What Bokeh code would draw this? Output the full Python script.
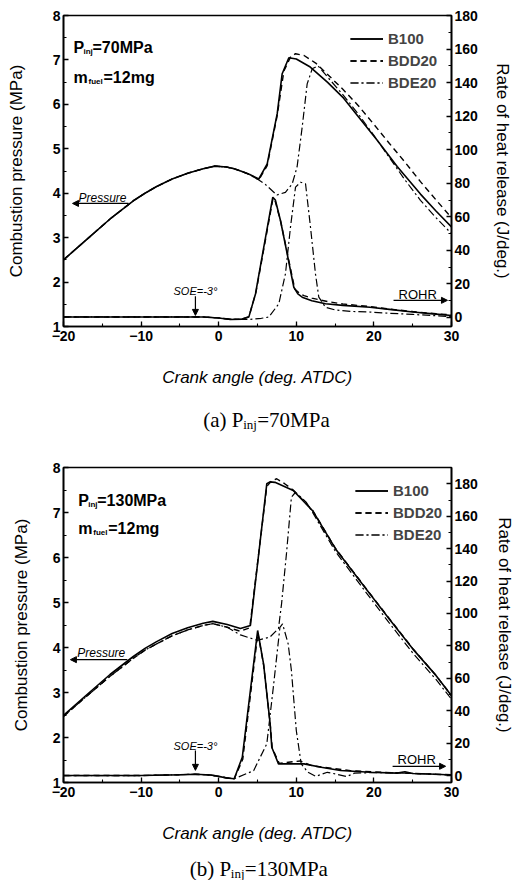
from bokeh.plotting import figure
from bokeh.models import (Range1d, LinearAxis, SingleIntervalTicker, Legend, LegendItem,
                          Label, Arrow, NormalHead)
from bokeh.layouts import column
from bokeh.embed import file_html
from bokeh.resources import INLINE

# ---------------- Panel (a): P_inj = 70 MPa ----------------
A_B100_P_ANG = [-20, -17, -14, -11, -9.5, -8, -6, -4, -2, -0.5, 1, 2, 3, 4, 5.17, 6.25, 7.54, 8.18, 9.04, 10, 11.8, 14, 16.1, 18, 20.4, 23, 26, 28, 30]
A_B100_P = [2.50, 2.96, 3.42, 3.83, 4.00, 4.15, 4.32, 4.45, 4.55, 4.61, 4.59, 4.55, 4.49, 4.42, 4.32, 4.66, 5.79, 6.69, 7.05, 7.02, 6.84, 6.50, 6.14, 5.72, 5.20, 4.60, 3.98, 3.60, 3.24]
A_BDD20_P_ANG = [-20, -17, -14, -11, -9.5, -8, -6, -4, -2, -0.5, 1, 2, 3, 4, 5.17, 6.25, 7.54, 8.4, 9.3, 9.9, 11, 12.5, 14, 16, 18, 20, 22, 24, 26, 28, 30]
A_BDD20_P = [2.50, 2.96, 3.42, 3.83, 4.00, 4.15, 4.32, 4.45, 4.55, 4.61, 4.59, 4.55, 4.49, 4.42, 4.30, 4.62, 5.75, 6.75, 7.08, 7.14, 7.10, 6.93, 6.68, 6.34, 5.97, 5.55, 5.12, 4.70, 4.26, 3.85, 3.45]
A_BDE20_P_ANG = [-20, -17, -14, -11, -9.5, -8, -6, -4, -2, -0.5, 1, 2, 3, 4, 5.17, 6, 7, 7.5, 8.6, 9.47, 10.1, 10.76, 11.4, 12.05, 12.8, 14, 16, 18, 20, 22, 24, 26, 28, 30]
A_BDE20_P = [2.50, 2.96, 3.42, 3.83, 4.00, 4.15, 4.32, 4.45, 4.55, 4.61, 4.59, 4.55, 4.49, 4.42, 4.30, 4.20, 4.04, 3.96, 4.02, 4.21, 4.59, 5.49, 6.46, 6.80, 6.87, 6.62, 6.22, 5.78, 5.30, 4.80, 4.30, 3.84, 3.45, 3.09]

A_B100_R_ANG = [-20, -10, -5, -2, 0, 1.5, 3, 3.88, 4.74, 5.81, 6.97, 7.3, 7.96, 8.82, 9.68, 10.2, 10.76, 12, 13.76, 16, 19.5, 22, 25, 28, 30]
A_B100_R = [0.3, 0.3, 0.3, 0.3, -0.3, -1.2, -1.0, 0.2, 14, 41.9, 71.7, 70, 57.8, 38, 18, 14, 12.1, 10, 8.2, 7.2, 6.1, 4.8, 3.2, 2.0, 1.2]
A_BDD20_R_ANG = [-20, -10, -5, -2, 0, 1.5, 3, 3.9, 4.8, 5.9, 7.0, 7.3, 8.0, 8.9, 9.8, 10.5, 11, 12, 14, 16, 19.5, 22, 25, 28, 30]
A_BDD20_R = [0.3, 0.3, 0.3, 0.3, -0.3, -1.2, -1.0, 0.5, 15, 43, 71, 69, 57, 37, 17, 14, 13, 11.5, 9.5, 8, 6.5, 5, 3.5, 2.2, 1.5]
A_BDE20_R_ANG = [-20, -10, -5, -2, 0, 2, 4, 5.5, 6.46, 7.75, 8.6, 9.25, 9.9, 10.54, 11.19, 11.83, 12.47, 12.9, 13.76, 15, 17, 19.6, 22, 25, 28, 30]
A_BDE20_R = [0.3, 0.3, 0.3, 0.3, -0.3, -1.2, -1.2, -0.5, 0.2, 8.2, 26, 53.8, 77.7, 80.6, 79.7, 53.8, 26, 12.1, 6.1, 4.5, 3.6, 3.2, 2.5, 1.8, 1.0, 0.5]

# ---------------- Panel (b): P_inj = 130 MPa ----------------
B_B100_P_ANG = [-20, -17, -14, -11, -9.5, -8, -6, -4, -2, -0.76, 1.1, 2.8, 4.09, 6.2, 6.6, 7.25, 9.6, 12.1, 15.06, 19, 22, 25, 28, 30]
B_B100_P = [2.49, 2.95, 3.40, 3.80, 3.98, 4.13, 4.31, 4.44, 4.54, 4.58, 4.51, 4.42, 4.49, 7.64, 7.68, 7.67, 7.49, 7.04, 6.19, 5.30, 4.63, 3.97, 3.38, 2.93]
B_BDD20_P_ANG = [-20, -17, -14, -11, -9.5, -8, -6, -4, -2, -0.76, 1.1, 2.8, 4.0, 6.2, 6.8, 7.47, 8.5, 9.6, 12.1, 15.06, 19, 22, 25, 28, 30]
B_BDD20_P = [2.47, 2.92, 3.36, 3.76, 3.94, 4.08, 4.26, 4.39, 4.49, 4.53, 4.45, 4.36, 4.44, 7.58, 7.70, 7.75, 7.64, 7.50, 7.05, 6.20, 5.31, 4.64, 3.98, 3.38, 2.93]
B_BDE20_P_ANG = [-20, -17, -14, -11, -9.5, -8, -6, -4, -2, -0.76, 1.1, 2.8, 4.94, 6.6, 7.7, 8.1, 8.73, 9.37, 9.9, 11.27, 12.1, 15.06, 19, 22, 25, 28, 30]
B_BDE20_P = [2.47, 2.92, 3.36, 3.76, 3.94, 4.08, 4.26, 4.39, 4.49, 4.53, 4.45, 4.28, 4.16, 4.23, 4.42, 4.97, 6.08, 7.34, 7.45, 7.23, 7.00, 6.13, 5.22, 4.54, 3.88, 3.29, 2.85]

B_B100_R_ANG = [-20, -10, -5, -3, -1, 0, 1, 2, 3.04, 5.02, 5.78, 6.63, 6.84, 7.7, 11, 13.2, 15.7, 19.5, 23, 24, 25, 28, 30]
B_B100_R = [0.0, 0.0, 0.5, 0.8, 0.3, -0.5, -1.5, -2.0, 11.3, 89.5, 68.9, 31.9, 17.5, 7.2, 7.2, 5.1, 3.1, 2.0, 1.5, 2.3, 1.3, 0.8, 0.3]
B_BDD20_R_ANG = [-20, -10, -5, -3, -1, 0, 1, 2, 3.1, 5.05, 5.8, 6.65, 6.9, 7.8, 9.5, 10.5, 12, 14.5, 17, 20, 24, 28, 30]
B_BDD20_R = [0.0, 0.0, 0.5, 0.8, 0.3, -0.5, -1.5, -2.0, 10, 88, 68, 31, 17, 7.5, 8.5, 9.0, 6.0, 4.5, 3.0, 2.2, 1.5, 0.8, 0.5]
B_BDE20_R_ANG = [-20, -10, -5, -3, -1, 0, 2, 4.5, 6.2, 7.04, 7.89, 8.23, 8.95, 9.37, 10, 10.63, 11.5, 12.5, 14, 15, 16.5, 17.5, 20, 24, 30]
B_BDE20_R = [0.0, 0.0, 0.5, 0.8, 0.3, -0.5, -2.0, 3.0, 19.6, 54.5, 91.5, 93.6, 81.3, 64.8, 27.8, 7.2, 2.0, -0.5, 2.0, 1.0, -0.6, 1.5, 1.8, 1.5, 0.3]

SERIES = ["B100", "BDD20", "BDE20"]
DASHES = {"B100": "solid", "BDD20": "6 4", "BDE20": "8 3 2 3"}
WIDTHS = {"B100": 1.6, "BDD20": 1.4, "BDE20": 1.2}

X_TICK_STEP = 10
P_TICK_STEP = 1
R_TICK_STEP = 20
SOE = -3

SANS = "Liberation Sans"
SERIF = "Liberation Serif"
W = 522


def make_panel(cfg):
    p = figure(width=W, height=cfg["h"], output_backend="svg", toolbar_location=None,
               x_range=Range1d(-20, 30), y_range=Range1d(1, 8),
               min_border_left=cfg["bl"], min_border_right=cfg["br"],
               min_border_top=cfg["bt"], min_border_bottom=cfg["bb"])
    p.extra_y_ranges = {"rohr": Range1d(cfg["r_lo"], cfg["r_hi"])}
    p.xgrid.grid_line_color = None
    p.ygrid.grid_line_color = None
    p.outline_line_color = "black"
    p.outline_line_width = 1.6
    p.background_fill_color = "white"
    p.border_fill_color = "white"

    raxis = LinearAxis(y_range_name="rohr")
    p.add_layout(raxis, "right")

    p.xaxis.ticker = SingleIntervalTicker(interval=X_TICK_STEP, num_minor_ticks=2)
    p.yaxis[0].ticker = SingleIntervalTicker(interval=P_TICK_STEP, num_minor_ticks=2)
    raxis.ticker = SingleIntervalTicker(interval=R_TICK_STEP, num_minor_ticks=2)

    for ax in [p.xaxis[0], p.yaxis[0], raxis]:
        ax.axis_line_width = 1.6
        ax.major_tick_in = 5
        ax.major_tick_out = 0
        ax.minor_tick_in = 3
        ax.minor_tick_out = 0
        ax.major_tick_line_width = 1.3
        ax.minor_tick_line_width = 1.1
        ax.major_label_text_font = SANS
        ax.major_label_text_font_style = "bold"
        ax.major_label_text_font_size = "14px"
        ax.major_label_text_color = "black"
        ax.axis_label_text_font = SANS
        ax.axis_label_text_font_size = "17px"
        ax.axis_label_text_color = "black"

    p.xaxis.axis_label = "Crank angle (deg. ATDC)"
    p.xaxis.axis_label_text_font_style = "italic"
    p.xaxis.major_label_standoff = 4
    p.xaxis.axis_label_standoff = 24
    p.yaxis[0].axis_label = "Combustion pressure (MPa)"
    p.yaxis[0].axis_label_text_font_style = "normal"
    p.yaxis[0].major_label_standoff = 3
    p.yaxis[0].axis_label_standoff = cfg["ls"]
    raxis.axis_label = "Rate of heat release (J/deg.)"
    raxis.axis_label_text_font_style = "normal"
    raxis.major_label_standoff = 3
    raxis.axis_label_standoff = cfg["rs"]

    items = []
    for s in SERIES:
        ang_p, val_p, ang_r, val_r = cfg["data"][s]
        r1 = p.line(ang_p, val_p, line_color="black", line_width=WIDTHS[s], line_dash=DASHES[s])
        r2 = p.line(ang_r, val_r, line_color="black", line_width=WIDTHS[s], line_dash=DASHES[s],
                    y_range_name="rohr")
        items.append(LegendItem(label=s, renderers=[r1, r2]))

    leg = Legend(items=items, location=cfg["leg_loc"], padding=0, margin=0, spacing=5,
                 label_height=17, glyph_height=17, glyph_width=33, label_standoff=5,
                 border_line_color=None, background_fill_alpha=0,
                 label_text_font=SANS, label_text_font_style="bold", label_text_font_size="15px")
    p.add_layout(leg)

    def lab(x, y, text, size, style="normal", font=SANS, xo=0, yo=0, align="left", yr="default"):
        p.add_layout(Label(x=x, y=y, text=text, text_font=font, text_font_size=size,
                           text_font_style=style, x_offset=xo, y_offset=yo, text_align=align,
                           text_baseline="alphabetic", text_color="black", y_range_name=yr))

    # injection pressure / fuel mass
    px, py = cfg["pinj_xy"]
    lab(px, py, "P", "16px", "bold")
    lab(px, py, "inj", "8px", "bold", xo=10, yo=-4)
    lab(px, py, "=" + cfg["pinj"], "16px", "bold", xo=19)
    mx, my = cfg["mfuel_xy"]
    lab(mx, my, "m", "16px", "bold")
    lab(mx, my, "fuel", "8px", "bold", xo=15, yo=-4)
    lab(mx, my, "=12mg", "16px", "bold", xo=30)

    # pressure annotation
    tx, ty = cfg["pres_txt"]
    lab(tx, ty, "Pressure", "12px", "italic")
    ax0, ax1, ay = cfg["pres_arrow"]
    p.add_layout(Arrow(end=NormalHead(size=6, fill_color="black", line_color="black"),
                       x_start=ax0, y_start=ay, x_end=ax1, y_end=ay, line_width=1.2))

    # SOE annotation
    sy_txt, sy0, sy1 = cfg["soe"]
    lab(SOE, sy_txt, "SOE=-3°", "11px", "italic", align="center")
    p.add_layout(Arrow(end=NormalHead(size=6, fill_color="black", line_color="black"),
                       x_start=SOE, y_start=sy0, x_end=SOE, y_end=sy1, line_width=1.2))

    # ROHR annotation
    rx, ry = cfg["rohr_txt"]
    lab(rx, ry, "ROHR", "13px", "normal", yo=3, yr="rohr")
    rx0, rx1, ray = cfg["rohr_arrow"]
    p.add_layout(Arrow(end=NormalHead(size=6, fill_color="black", line_color="black"),
                       x_start=rx0, y_start=ray, x_end=rx1, y_end=ray, line_width=1.2,
                       y_range_name="rohr"))
    return p


def make_caption(h, x0, base, pre, sub_off, pinj):
    c = figure(width=W, height=h, output_backend="svg", toolbar_location=None,
               x_range=Range1d(0, W), y_range=Range1d(0, h),
               x_axis_location=None, y_axis_location=None,
               min_border=0, min_border_left=0, min_border_right=0,
               min_border_top=0, min_border_bottom=0)
    c.outline_line_color = None
    c.xgrid.grid_line_color = None
    c.ygrid.grid_line_color = None
    c.background_fill_color = "white"
    c.border_fill_color = "white"
    for text, size, xo, yo in [(pre, "21px", 0, 0), ("inj", "13px", sub_off, -5),
                               ("=" + pinj, "21px", sub_off + 14, 0)]:
        c.add_layout(Label(x=x0, y=base, text=text, text_font=SERIF, text_font_size=size,
                           x_offset=xo, y_offset=yo, text_baseline="alphabetic",
                           text_color="black"))
    return c


cfg_a = dict(
    h=398, bl=63, br=71, bt=15, bb=72, ls=24, rs=12, r_lo=-5.4, r_hi=180,
    data={"B100": (A_B100_P_ANG, A_B100_P, A_B100_R_ANG, A_B100_R),
          "BDD20": (A_BDD20_P_ANG, A_BDD20_P, A_BDD20_R_ANG, A_BDD20_R),
          "BDE20": (A_BDE20_P_ANG, A_BDE20_P, A_BDE20_R_ANG, A_BDE20_R)},
    leg_loc=(287, 235), pinj="70MPa", pinj_xy=(-18.71, 7.28), mfuel_xy=(-18.71, 6.61),
    pres_txt=(-18.07, 3.90), pres_arrow=(-11.62, -18.84, 3.77),
    soe=(1.81, 1.68, 1.25), rohr_txt=(23.17, 12.1), rohr_arrow=(22.53, 29.48, 10.2),
)
cfg_b = dict(
    h=406, bl=58, br=69, bt=27, bb=64, ls=19, rs=14, r_lo=-4.3, r_hi=190.1,
    data={"B100": (B_B100_P_ANG, B_B100_P, B_B100_R_ANG, B_B100_R),
          "BDD20": (B_BDD20_P_ANG, B_BDD20_P, B_BDD20_R_ANG, B_BDD20_R),
          "BDE20": (B_BDE20_P_ANG, B_BDE20_P, B_BDE20_R_ANG, B_BDE20_R)},
    leg_loc=(292, 239), pinj="130MPa", pinj_xy=(-18.1, 7.27), mfuel_xy=(-18.1, 6.64),
    pres_txt=(-18.23, 3.87), pres_arrow=(-11.77, -19.11, 3.73),
    soe=(1.82, 1.71, 1.27), rohr_txt=(23.04, 8.2), rohr_arrow=(22.41, 29.24, 5.7),
)

pa = make_panel(cfg_a)
ca = make_caption(42, 188, 21, "(a) P", 40, "70MPa")
pb = make_panel(cfg_b)
cb = make_caption(34, 170, 12, "(b) P", 41, "130MPa")
layout = column(pa, ca, pb, cb, spacing=0)

open("out.html", "w").write(file_html(layout, INLINE))
